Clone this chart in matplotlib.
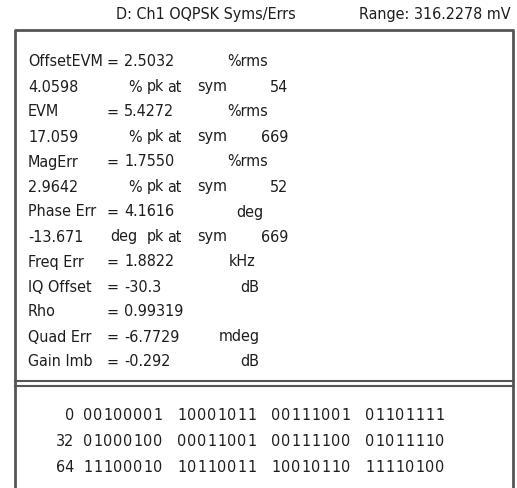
import matplotlib
matplotlib.use('Agg')
import matplotlib.pyplot as plt

# header texts
title_left = 'D: Ch1 OQPSK Syms/Errs'
title_right = 'Range: 316.2278 mV'

# measurement table: label, value, unit
labels = ['OffsetEVM', '4.0598', 'EVM', '17.059', 'MagErr', '2.9642', 'Phase Err',
          '-13.671', 'Freq Err', 'IQ Offset', 'Rho', 'Quad Err', 'Gain Imb']
values = ['2.5032', '', '5.4272', '', '1.7550', '', '4.1616',
          '', '1.8822', '-30.3', '0.99319', '-6.7729', '-0.292']
peak_unit = ['', '%', '', '%', '', '%', '', 'deg', '', '', '', '', '']
units = ['%rms', '', '%rms', '', '%rms', '', 'deg', '', 'kHz', 'dB', '', 'mdeg', 'dB']
peak_sym = ['', '54', '', '669', '', '52', '', '669', '', '', '', '', '']

# symbol bits
bit_index = ['0', '32', '64']
bit_rows = [['00100001', '10001011', '00111001', '01101111'],
            ['01000100', '00011001', '00111100', '01011110'],
            ['11100010', '10110011', '10010110', '11110100']]

W, H = 517, 488
fig = plt.figure(figsize=(W/100, H/100), dpi=100)
ax = fig.add_axes([0, 0, 1, 1])
ax.set_xlim(0, W)
ax.set_ylim(H, 0)
ax.axis('off')

fam = ['DejaVu Sans']
tc = '#1e1e1e'
fs = 11.5
lc = '#555555'

def put(x, y, s, ha='left', size=fs):
    ax.text(x, y, s, ha=ha, va='center', fontsize=size, family=fam,
            fontstretch='condensed', color=tc)

# header
put(206, 14, title_left, ha='center')
put(511, 14, title_right, ha='right')

# frame
ax.plot([15, 15], [30, H + 5], color=lc, lw=2, solid_capstyle='butt')
ax.plot([513, 513], [30, H + 5], color=lc, lw=2, solid_capstyle='butt')
ax.plot([14, 514], [30, 30], color=lc, lw=2, solid_capstyle='butt')
ax.plot([15, 513], [381, 381], color=lc, lw=1.5)
ax.plot([15, 513], [386, 386], color=lc, lw=1.5)

# measurement lines
unit_x = {'%rms': 227, 'deg': 236, 'kHz': 229, 'dB': 240, 'mdeg': 219}
y0, dy = 62, 25
for i in range(len(labels)):
    y = y0 + i * dy
    put(28, y, labels[i])
    if values[i]:
        put(107, y, '=')
        put(124, y, values[i])
    if peak_sym[i]:
        if peak_unit[i] == 'deg':
            put(110, y, 'deg')
        else:
            put(128, y, '%')
        put(147, y, 'pk')
        put(167, y, 'at')
        put(197, y, 'sym')
        put(288, y, peak_sym[i], ha='right')
    if units[i]:
        put(unit_x[units[i]], y, units[i])

# bit rows, fixed digit pitch like the instrument font
pitch = 10
for r, idx in enumerate(bit_index):
    y = 416 + r * 25.5
    put(74, y, idx, ha='right')
    for g, grp in enumerate(bit_rows[r]):
        gx = 83 + g * 94
        for k, ch in enumerate(grp):
            put(gx + k * pitch, y, ch)

fig.savefig('out.png', dpi=100)
